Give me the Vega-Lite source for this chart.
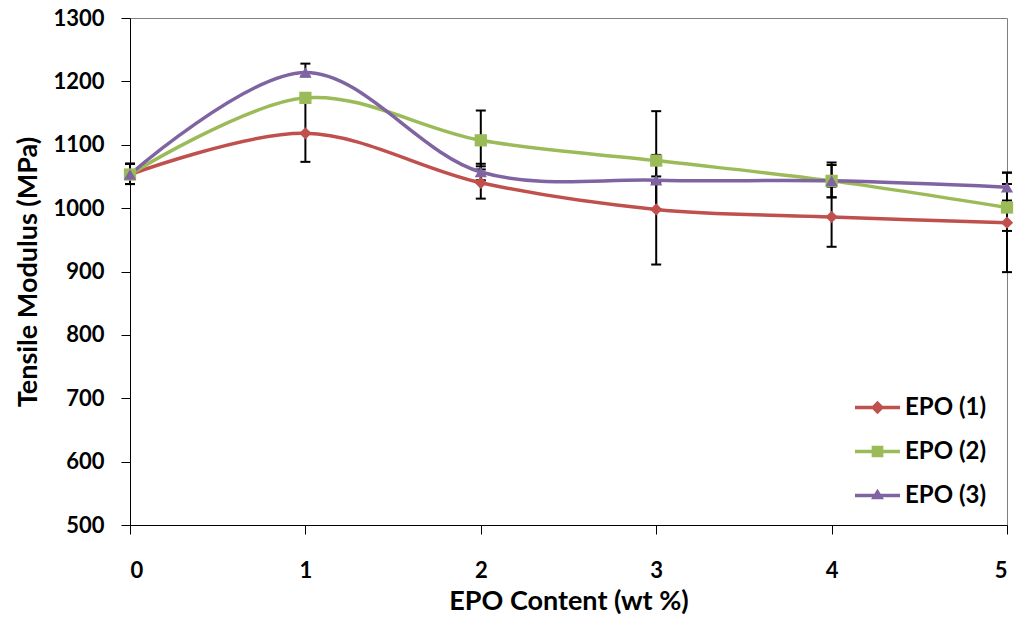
{
  "$schema": "https://vega.github.io/schema/vega-lite/v6.json",
  "width": 877,
  "height": 507,
  "autosize": "none",
  "padding": {"left": 130, "top": 18, "right": 17, "bottom": 103},
  "background": "white",
  "config": {
    "font": "Lato",
    "view": {"stroke": "#808080", "strokeWidth": 1},
    "axis": {
      "grid": false,
      "domainColor": "black",
      "tickColor": "black",
      "tickSize": 9,
      "labelFont": "Lato",
      "labelFontWeight": "bold",
      "labelFontSize": 22,
      "labelColor": "black",
      "titleFont": "Lato",
      "titleFontWeight": "bold",
      "titleFontSize": 27,
      "titleColor": "black"
    },
    "legend": {
      "labelFont": "Lato",
      "labelFontWeight": "bold",
      "labelFontSize": 24,
      "labelColor": "black"
    }
  },
  "data": {
    "values": [
      {"x": 0, "series": "EPO (1)", "y": 1053, "lo": 1038, "hi": 1070},
      {"x": 1, "series": "EPO (1)", "y": 1118, "lo": 1073, "hi": 1168},
      {"x": 2, "series": "EPO (1)", "y": 1040, "lo": 1015, "hi": 1066},
      {"x": 3, "series": "EPO (1)", "y": 998, "lo": 911, "hi": 1084},
      {"x": 4, "series": "EPO (1)", "y": 986, "lo": 939, "hi": 1034},
      {"x": 5, "series": "EPO (1)", "y": 977, "lo": 899, "hi": 1056},
      {"x": 0, "series": "EPO (2)", "y": 1053, "lo": 1038, "hi": 1070},
      {"x": 1, "series": "EPO (2)", "y": 1174, "lo": 1168, "hi": 1180},
      {"x": 2, "series": "EPO (2)", "y": 1107, "lo": 1061, "hi": 1154},
      {"x": 3, "series": "EPO (2)", "y": 1075, "lo": 998, "hi": 1153},
      {"x": 4, "series": "EPO (2)", "y": 1043, "lo": 1017, "hi": 1072},
      {"x": 5, "series": "EPO (2)", "y": 1001, "lo": 964, "hi": 1038},
      {"x": 0, "series": "EPO (3)", "y": 1053, "lo": 1038, "hi": 1070},
      {"x": 1, "series": "EPO (3)", "y": 1214, "lo": 1208, "hi": 1228},
      {"x": 2, "series": "EPO (3)", "y": 1057, "lo": 1044, "hi": 1070},
      {"x": 3, "series": "EPO (3)", "y": 1044, "lo": 1040, "hi": 1050},
      {"x": 4, "series": "EPO (3)", "y": 1043, "lo": 1017, "hi": 1068},
      {"x": 5, "series": "EPO (3)", "y": 1033, "lo": 1012, "hi": 1056}
    ]
  },
  "layer": [
    {
      "mark": {"type": "rule", "color": "black", "strokeWidth": 2},
      "encoding": {
        "x": {"field": "x", "type": "quantitative", "title": "EPO Content (wt %)",
              "scale": {"domain": [0, 5], "nice": false},
              "axis": {"values": [0, 1, 2, 3, 4, 5], "format": "d", "labelPadding": 26, "titlePadding": 7}},
        "y": {"field": "lo", "type": "quantitative", "title": "Tensile Modulus (MPa)",
              "scale": {"domain": [500, 1300], "nice": false},
              "axis": {"values": [500, 600, 700, 800, 900, 1000, 1100, 1200, 1300], "format": "d", "labelPadding": 17, "titlePadding": 10}},
        "y2": {"field": "hi"}
      }
    },
    {
      "mark": {"type": "point", "shape": "stroke", "size": 100, "color": "black", "strokeWidth": 2, "opacity": 1},
      "encoding": {
        "x": {"field": "x", "type": "quantitative", "title": "EPO Content (wt %)"},
        "y": {"field": "lo", "type": "quantitative", "title": "Tensile Modulus (MPa)"}
      }
    },
    {
      "mark": {"type": "point", "shape": "stroke", "size": 100, "color": "black", "strokeWidth": 2, "opacity": 1},
      "encoding": {
        "x": {"field": "x", "type": "quantitative", "title": "EPO Content (wt %)"},
        "y": {"field": "hi", "type": "quantitative", "title": "Tensile Modulus (MPa)"}
      }
    },
    {
      "mark": {"type": "line", "interpolate": "catmull-rom", "strokeWidth": 3.5},
      "encoding": {
        "x": {"field": "x", "type": "quantitative", "title": "EPO Content (wt %)"},
        "y": {"field": "y", "type": "quantitative", "title": "Tensile Modulus (MPa)"},
        "color": {"field": "series", "type": "nominal", "legend": null,
                  "scale": {"domain": ["EPO (1)", "EPO (2)", "EPO (3)"], "range": ["#C0504D", "#9BBB59", "#8064A2"]}}
      }
    },
    {
      "mark": {"type": "point", "filled": true, "size": 150, "opacity": 1},
      "encoding": {
        "x": {"field": "x", "type": "quantitative", "title": "EPO Content (wt %)"},
        "y": {"field": "y", "type": "quantitative", "title": "Tensile Modulus (MPa)"},
        "color": {"field": "series", "type": "nominal", "legend": null,
                  "scale": {"domain": ["EPO (1)", "EPO (2)", "EPO (3)"], "range": ["#C0504D", "#9BBB59", "#8064A2"]}},
        "shape": {"field": "series", "type": "nominal", "legend": null,
                  "scale": {"domain": ["EPO (1)", "EPO (2)", "EPO (3)"], "range": ["diamond", "square", "triangle-up"]}}
      }
    },
    {
      "transform": [{"filter": "datum.x > 99"}],
      "mark": {"type": "point", "filled": true, "opacity": 1},
      "encoding": {
        "color": {"field": "series", "type": "nominal",
                  "scale": {"domain": ["EPO (1)", "EPO (2)", "EPO (3)"], "range": ["#C0504D", "#9BBB59", "#8064A2"]},
                  "legend": {"title": null, "orient": "none", "legendX": 725, "legendY": 367, "padding": 0,
                             "rowPadding": 9, "symbolSize": 2025, "labelOffset": 5, "symbolStrokeWidth": 0, "symbolOpacity": 1}},
        "shape": {"field": "series", "type": "nominal",
                  "scale": {"domain": ["EPO (1)", "EPO (2)", "EPO (3)"],
                            "range": [
                              "M-1,-0.075H-0.22L0,-0.295L0.22,-0.075H1V0.075H0.22L0,0.295L-0.22,0.075H-1Z",
                              "M-1,-0.075H-0.26V-0.26H0.26V-0.075H1V0.075H0.26V0.26H-0.26V0.075H-1Z",
                              "M-1,-0.075H-0.14L0,-0.3L0.14,-0.075H1V0.075H0.233L0.29,0.17H-0.29L-0.233,0.075H-1Z"
                            ]},
                  "legend": {"title": null, "orient": "none", "legendX": 725, "legendY": 367, "padding": 0,
                             "rowPadding": 9, "symbolSize": 2025, "labelOffset": 5, "symbolStrokeWidth": 0, "symbolOpacity": 1}}
      }
    }
  ],
  "resolve": {"scale": {"color": "independent", "shape": "independent"}}
}
